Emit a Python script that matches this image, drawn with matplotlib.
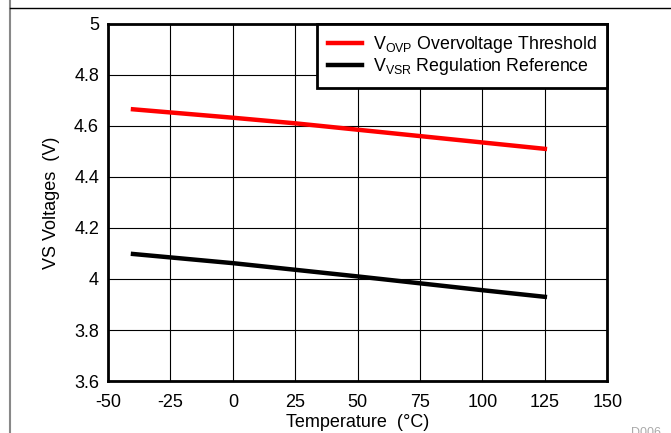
import numpy as np
import matplotlib
matplotlib.use("Agg")
import matplotlib.pyplot as plt
from matplotlib.lines import Line2D

plt.rcParams['font.family'] = ['Liberation Sans', 'DejaVu Sans']
plt.rcParams['mathtext.fontset'] = 'custom'
plt.rcParams['mathtext.rm'] = 'Liberation Sans'
plt.rcParams['mathtext.it'] = 'Liberation Sans'
plt.rcParams['axes.unicode_minus'] = False

temp = [-40, 0, 25, 50, 75, 100, 125]
v_ovp = [4.665, 4.632, 4.61, 4.585, 4.56, 4.535, 4.51]
v_vsr = [4.098, 4.062, 4.036, 4.01, 3.983, 3.956, 3.93]

xticks = [-50, -25, 0, 25, 50, 75, 100, 125, 150]
yticks = [3.6, 3.8, 4.0, 4.2, 4.4, 4.6, 4.8, 5.0]
ylabels = ['3.6', '3.8', '4', '4.2', '4.4', '4.6', '4.8', '5']

fig = plt.figure(figsize=(6.71, 4.33), dpi=100)
ax = fig.add_axes([0.161, 0.120, 0.744, 0.825])

ax.plot(temp, v_ovp, color='#ff0000', lw=3.2, label=r'V$_{\mathrm{OVP}}$ Overvoltage Threshold', zorder=3)
ax.plot(temp, v_vsr, color='black', lw=3.2, label=r'V$_{\mathrm{VSR}}$ Regulation Reference', zorder=3)

ax.set_xlim(-50, 150)
ax.set_ylim(3.6, 5.0)
ax.set_xticks(xticks)
ax.set_yticks(yticks)
ax.set_yticklabels(ylabels)
ax.grid(True, color='black', lw=0.8)
ax.tick_params(length=0, labelsize=13)
ax.tick_params(axis='x', pad=9.5)
ax.tick_params(axis='y', pad=6.5)
for s in ax.spines.values():
    s.set_linewidth(2)

ax.set_xlabel('Temperature  (°C)', fontsize=13, labelpad=2)
ax.set_ylabel('VS Voltages  (V)', fontsize=13, labelpad=10)

leg = ax.legend(loc='upper right', fontsize=12.8, frameon=True, fancybox=False,
                borderaxespad=0, handlelength=1.9, handletextpad=0.6,
                labelspacing=0.05, borderpad=0.6)
leg.get_frame().set_edgecolor('black')
leg.get_frame().set_linewidth(2)
leg.get_frame().set_alpha(1)

fig.add_artist(Line2D([9.5/671, 9.5/671], [0, 1], color='#888888', lw=1.5))
fig.add_artist(Line2D([9.5/671, 1], [1 - 7.5/433, 1 - 7.5/433], color='black', lw=1))
fig.text(0.985, 0.0, 'D006', color='#aaaaaa', fontsize=9, ha='right', va='center')

fig.savefig('out.png', dpi=100)
